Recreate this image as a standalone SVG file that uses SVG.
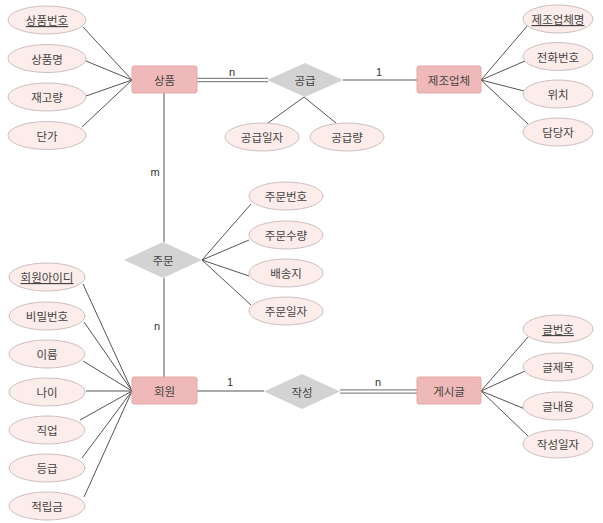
<svg xmlns="http://www.w3.org/2000/svg" width="603" height="523" viewBox="0 0 603 523">
<style>
.ent{fill:#f0b9b9;stroke:#e6a9a9;stroke-width:1}
.att{fill:#fcecea;stroke:#cdbfbf;stroke-width:1}
.rel{fill:#d3d3d3;stroke:none}
.t{font-family:"Noto Sans CJK KR","Noto Sans",sans-serif;font-size:11.5px;fill:#444444;text-anchor:middle;dominant-baseline:central}
.u{text-decoration:underline}
.lbl{font-family:"Liberation Sans","Noto Sans",sans-serif;font-size:11px;fill:#333;text-anchor:middle}
.ln{stroke:#555;stroke-width:1;fill:none}
.dbo{stroke:#8a8a8a;stroke-width:4.4;fill:none}
.dbi{stroke:#ffffff;stroke-width:2.2;fill:none}
</style>
<rect width="603" height="523" fill="#ffffff"/>
<g id="connectors">
<line class="ln" x1="83" y1="27" x2="132" y2="80"/>
<line class="ln" x1="86" y1="61" x2="132" y2="80"/>
<line class="ln" x1="86" y1="96" x2="132" y2="80"/>
<line class="ln" x1="82" y1="127" x2="132" y2="80"/>
<line class="ln" x1="481" y1="80" x2="528" y2="25"/>
<line class="ln" x1="481" y1="80" x2="525" y2="61"/>
<line class="ln" x1="481" y1="80" x2="524" y2="91"/>
<line class="ln" x1="481" y1="80" x2="528" y2="124"/>
<line class="dbo" x1="197" y1="80" x2="268" y2="80"/>
<line class="dbi" x1="197" y1="80" x2="268" y2="80"/>
<line class="ln" x1="343" y1="80" x2="417" y2="80"/>
<line class="ln" x1="304" y1="97" x2="268" y2="123"/>
<line class="ln" x1="304" y1="97" x2="336" y2="123"/>
<line class="ln" x1="164" y1="93" x2="164" y2="242"/>
<line class="ln" x1="164" y1="278" x2="164" y2="377"/>
<line class="ln" x1="202" y1="260" x2="251" y2="204"/>
<line class="ln" x1="202" y1="260" x2="249" y2="240"/>
<line class="ln" x1="202" y1="260" x2="249" y2="276"/>
<line class="ln" x1="202" y1="260" x2="251" y2="305"/>
<line class="ln" x1="83" y1="284" x2="132" y2="391"/>
<line class="ln" x1="84" y1="322" x2="132" y2="391"/>
<line class="ln" x1="83" y1="361" x2="132" y2="391"/>
<line class="ln" x1="86" y1="391" x2="132" y2="391"/>
<line class="ln" x1="80" y1="420" x2="132" y2="391"/>
<line class="ln" x1="82" y1="458" x2="132" y2="391"/>
<line class="ln" x1="84" y1="497" x2="132" y2="391"/>
<line class="ln" x1="197" y1="391" x2="264" y2="391"/>
<line class="dbo" x1="340" y1="391.5" x2="417" y2="391.5"/>
<line class="dbi" x1="340" y1="391.5" x2="417" y2="391.5"/>
<line class="ln" x1="481" y1="391" x2="528" y2="337"/>
<line class="ln" x1="481" y1="391" x2="525" y2="371"/>
<line class="ln" x1="481" y1="391" x2="525" y2="409"/>
<line class="ln" x1="481" y1="391" x2="528" y2="436"/>
<text class="lbl" x="232" y="76">n</text>
<text class="lbl" x="379" y="76">1</text>
<text class="lbl" x="155" y="176">m</text>
<text class="lbl" x="157" y="330">n</text>
<text class="lbl" x="230" y="386">1</text>
<text class="lbl" x="378" y="386">n</text>
</g>
<g id="e-product"><rect class="ent" x="132" y="66" width="65" height="27" rx="2"/><text class="t" x="164.5" y="79.5">상품</text></g>
<g id="e-maker"><rect class="ent" x="417" y="66" width="64" height="27" rx="2"/><text class="t" x="449" y="79.5">제조업체</text></g>
<g id="e-member"><rect class="ent" x="132" y="377" width="65" height="27" rx="2"/><text class="t" x="164.5" y="390.5">회원</text></g>
<g id="e-post"><rect class="ent" x="417" y="377" width="64" height="27" rx="2"/><text class="t" x="449" y="390.5">게시글</text></g>
<g id="r-supply"><polygon class="rel" points="305,63 343,80 305,97 267,80"/><text class="t" x="305" y="80">공급</text></g>
<g id="r-order"><polygon class="rel" points="163,242 202,260 163,278 124,260"/><text class="t" x="163" y="260">주문</text></g>
<g id="r-write"><polygon class="rel" points="302,374 340,391.5 302,409 264,391.5"/><text class="t" x="302" y="391.5">작성</text></g>
<g id="a-product-no"><ellipse class="att" cx="47" cy="20" rx="39" ry="14"/><text class="t u" x="47" y="20">상품번호</text></g>
<g id="a-product-name"><ellipse class="att" cx="47" cy="58.5" rx="39" ry="14"/><text class="t" x="47" y="58.5">상품명</text></g>
<g id="a-stock"><ellipse class="att" cx="47" cy="97" rx="39" ry="14"/><text class="t" x="47" y="97">재고량</text></g>
<g id="a-price"><ellipse class="att" cx="47" cy="135.5" rx="39" ry="14"/><text class="t" x="47" y="135.5">단가</text></g>
<g id="a-maker-name"><ellipse class="att" cx="558" cy="19" rx="35" ry="14"/><text class="t u" x="558" y="19">제조업체명</text></g>
<g id="a-phone"><ellipse class="att" cx="558" cy="56.5" rx="35" ry="14"/><text class="t" x="558" y="56.5">전화번호</text></g>
<g id="a-location"><ellipse class="att" cx="558" cy="94" rx="35" ry="14"/><text class="t" x="558" y="94">위치</text></g>
<g id="a-manager"><ellipse class="att" cx="558" cy="132" rx="35" ry="14"/><text class="t" x="558" y="132">담당자</text></g>
<g id="a-supply-date"><ellipse class="att" cx="262" cy="137" rx="37" ry="14"/><text class="t" x="262" y="137">공급일자</text></g>
<g id="a-supply-qty"><ellipse class="att" cx="347" cy="137" rx="37" ry="14"/><text class="t" x="347" y="137">공급량</text></g>
<g id="a-order-no"><ellipse class="att" cx="286" cy="196" rx="37" ry="14"/><text class="t" x="286" y="196">주문번호</text></g>
<g id="a-order-qty"><ellipse class="att" cx="286" cy="235" rx="37" ry="14"/><text class="t" x="286" y="235">주문수량</text></g>
<g id="a-address"><ellipse class="att" cx="286" cy="273" rx="37" ry="14"/><text class="t" x="286" y="273">배송지</text></g>
<g id="a-order-date"><ellipse class="att" cx="286" cy="311" rx="37" ry="14"/><text class="t" x="286" y="311">주문일자</text></g>
<g id="a-member-id"><ellipse class="att" cx="47" cy="277" rx="38" ry="14"/><text class="t u" x="47" y="277">회원아이디</text></g>
<g id="a-password"><ellipse class="att" cx="47" cy="316" rx="38" ry="14"/><text class="t" x="47" y="316">비밀번호</text></g>
<g id="a-name"><ellipse class="att" cx="47" cy="354" rx="38" ry="14"/><text class="t" x="47" y="354">이름</text></g>
<g id="a-age"><ellipse class="att" cx="47" cy="392" rx="38" ry="14"/><text class="t" x="47" y="392">나이</text></g>
<g id="a-job"><ellipse class="att" cx="47" cy="430" rx="38" ry="14"/><text class="t" x="47" y="430">직업</text></g>
<g id="a-grade"><ellipse class="att" cx="47" cy="468" rx="38" ry="14"/><text class="t" x="47" y="468">등급</text></g>
<g id="a-points"><ellipse class="att" cx="47" cy="506" rx="38" ry="14"/><text class="t" x="47" y="506">적립금</text></g>
<g id="a-post-no"><ellipse class="att" cx="558" cy="329" rx="35" ry="14"/><text class="t u" x="558" y="329">글번호</text></g>
<g id="a-title"><ellipse class="att" cx="558" cy="367" rx="35" ry="14"/><text class="t" x="558" y="367">글제목</text></g>
<g id="a-content"><ellipse class="att" cx="558" cy="406" rx="35" ry="14"/><text class="t" x="558" y="406">글내용</text></g>
<g id="a-write-date"><ellipse class="att" cx="558" cy="444" rx="35" ry="14"/><text class="t" x="558" y="444">작성일자</text></g>
</svg>
